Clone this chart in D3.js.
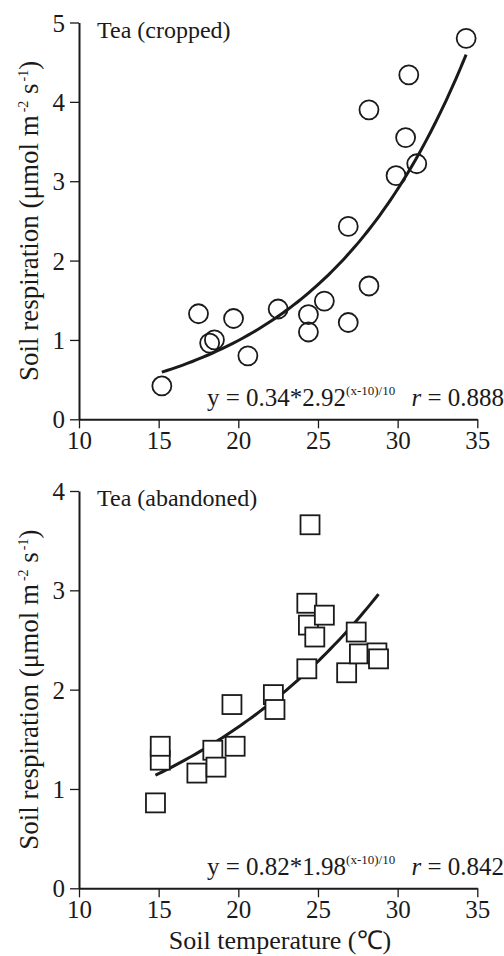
<!DOCTYPE html>
<html>
<head>
<meta charset="utf-8">
<script src="https://cdn.jsdelivr.net/npm/d3@7"></script>
<style>
  body { margin: 0; background: #fff; }
  text { font-family: "Liberation Serif", "Times New Roman", serif; fill: #1a1a1a; }
</style>
</head>
<body>
<script>
// Tea (cropped) - circles
var croppedTemp = [15.2, 17.5, 18.2, 18.5, 19.7, 20.6, 22.5, 24.4, 24.4, 25.4, 26.9, 26.9, 28.2, 28.2, 29.9, 30.5, 30.7, 31.2, 34.3];
var croppedResp = [0.42, 1.33, 0.96, 1.00, 1.27, 0.80, 1.39, 1.32, 1.10, 1.49, 2.43, 1.22, 1.68, 3.90, 3.07, 3.55, 4.34, 3.22, 4.80];
// Tea (abandoned) - squares
var abandTemp = [14.8, 15.1, 15.1, 17.4, 18.4, 18.6, 19.6, 19.8, 22.2, 22.3, 24.3, 24.3, 24.4, 24.5, 24.8, 25.4, 26.8, 27.4, 27.6, 28.7, 28.8];
var abandResp = [0.86, 1.29, 1.43, 1.16, 1.39, 1.22, 1.85, 1.43, 1.95, 1.80, 2.21, 2.87, 2.65, 3.66, 2.53, 2.75, 2.17, 2.58, 2.36, 2.37, 2.31];

// fitted curves: y = a * b^((x-10)/10)
var fitA = [0.34, 0.82];
var fitB = [2.92, 1.98];
var fitR = ["0.888", "0.842"];
var panelTitles = ["Tea (cropped)", "Tea (abandoned)"];
var xTicks = [10, 15, 20, 25, 30, 35];
var yTicksTop = [0, 1, 2, 3, 4, 5];
var yTicksBottom = [0, 1, 2, 3, 4];

var W = 504, H = 956;
var svg = d3.select("body").append("svg").attr("width", W).attr("height", H);

var panels = [
  {temp: croppedTemp, resp: croppedResp, yMax: 5, yTicks: yTicksTop, top: 22.5, bottom: 419.3, shape: "circle"},
  {temp: abandTemp, resp: abandResp, yMax: 4, yTicks: yTicksBottom, top: 491, bottom: 888.3, shape: "square"}
];

panels.forEach(function(p, i) {
  var x = d3.scaleLinear().domain([10, 35]).range([79, 477.3]);
  var y = d3.scaleLinear().domain([0, p.yMax]).range([p.bottom, p.top]);
  var g = svg.append("g");

  // axes
  var xAxis = g.append("g").attr("transform", "translate(0," + p.bottom + ")")
    .call(d3.axisBottom(x).tickValues(xTicks).tickSize(9).tickSizeOuter(0).tickPadding(3));
  var yAxis = g.append("g").attr("transform", "translate(79,0)")
    .call(d3.axisLeft(y).tickValues(p.yTicks).tickSize(9).tickSizeOuter(0).tickPadding(5).tickFormat(d3.format("d")));
  [xAxis, yAxis].forEach(function(a) {
    a.select(".domain").attr("stroke", "#1a1a1a").attr("stroke-width", 2);
    a.selectAll(".tick line").attr("stroke", "#1a1a1a").attr("stroke-width", 1.3);
    a.selectAll(".tick text").style("font-family", "Liberation Serif").style("font-size", "25px").attr("fill", "#1a1a1a");
  });
  yAxis.selectAll(".tick text").attr("dy", "0.34em");

  // fitted curve
  var lo = d3.min(p.temp), hi = d3.max(p.temp);
  var xs = d3.range(0, 61).map(function(k) { return lo + (hi - lo) * k / 60; });
  var line = d3.line()
    .x(function(t) { return x(t); })
    .y(function(t) { return y(fitA[i] * Math.pow(fitB[i], (t - 10) / 10)); })
    .curve(d3.curveBasis);
  g.append("path").datum(xs).attr("d", line)
    .attr("fill", "none").attr("stroke", "#1a1a1a").attr("stroke-width", 3);

  // points
  var pts = p.temp.map(function(t, k) { return [t, p.resp[k]]; });
  if (p.shape === "circle") {
    g.selectAll("circle.pt").data(pts).enter().append("circle")
      .attr("class", "pt")
      .attr("cx", function(d) { return x(d[0]); })
      .attr("cy", function(d) { return y(d[1]); })
      .attr("r", 9.5)
      .attr("fill", "none")
      .attr("stroke", "#1a1a1a").attr("stroke-width", 1.8);
  } else {
    g.selectAll("rect.pt").data(pts).enter().append("rect")
      .attr("class", "pt")
      .attr("x", function(d) { return x(d[0]) - 9.5; })
      .attr("y", function(d) { return y(d[1]) - 9.5; })
      .attr("width", 19).attr("height", 19)
      .attr("fill", "#fff")
      .attr("stroke", "#1a1a1a").attr("stroke-width", 1.8);
  }

  // panel title
  g.append("text").attr("x", 97).attr("y", p.top + 15)
    .style("font-size", "24px").text(panelTitles[i]);

  // equation
  var eq = g.append("text").attr("x", 207).attr("y", p.bottom - 13).style("font-size", "25px");
  eq.append("tspan").text("y = " + fitA[i].toFixed(2) + "*" + fitB[i].toFixed(2));
  eq.append("tspan").attr("dy", -11).style("font-size", "13px").text("(x-10)/10");
  var rt = g.append("text").attr("x", 504).attr("y", p.bottom - 13)
    .attr("text-anchor", "end").style("font-size", "25px");
  rt.append("tspan").style("font-style", "italic").text("r");
  rt.append("tspan").text(" = " + fitR[i]);

  // y axis title
  var yl = g.append("text")
    .attr("transform", "translate(38," + ((p.top + p.bottom) / 2) + ") rotate(-90)")
    .attr("text-anchor", "middle").style("font-size", "27px");
  yl.append("tspan").text("Soil respiration (\u03bcmol m");
  yl.append("tspan").attr("dx", 3).attr("dy", -10).style("font-size", "14px").text("-2");
  yl.append("tspan").attr("dy", 10).text(" s");
  yl.append("tspan").attr("dx", 2).attr("dy", -10).style("font-size", "14px").text("-1");
  yl.append("tspan").attr("dy", 10).text(")");
});

svg.append("text").attr("x", 280).attr("y", 949).attr("text-anchor", "middle")
  .style("font-size", "26px").text("Soil temperature (\u2103)");
</script>
</body>
</html>
